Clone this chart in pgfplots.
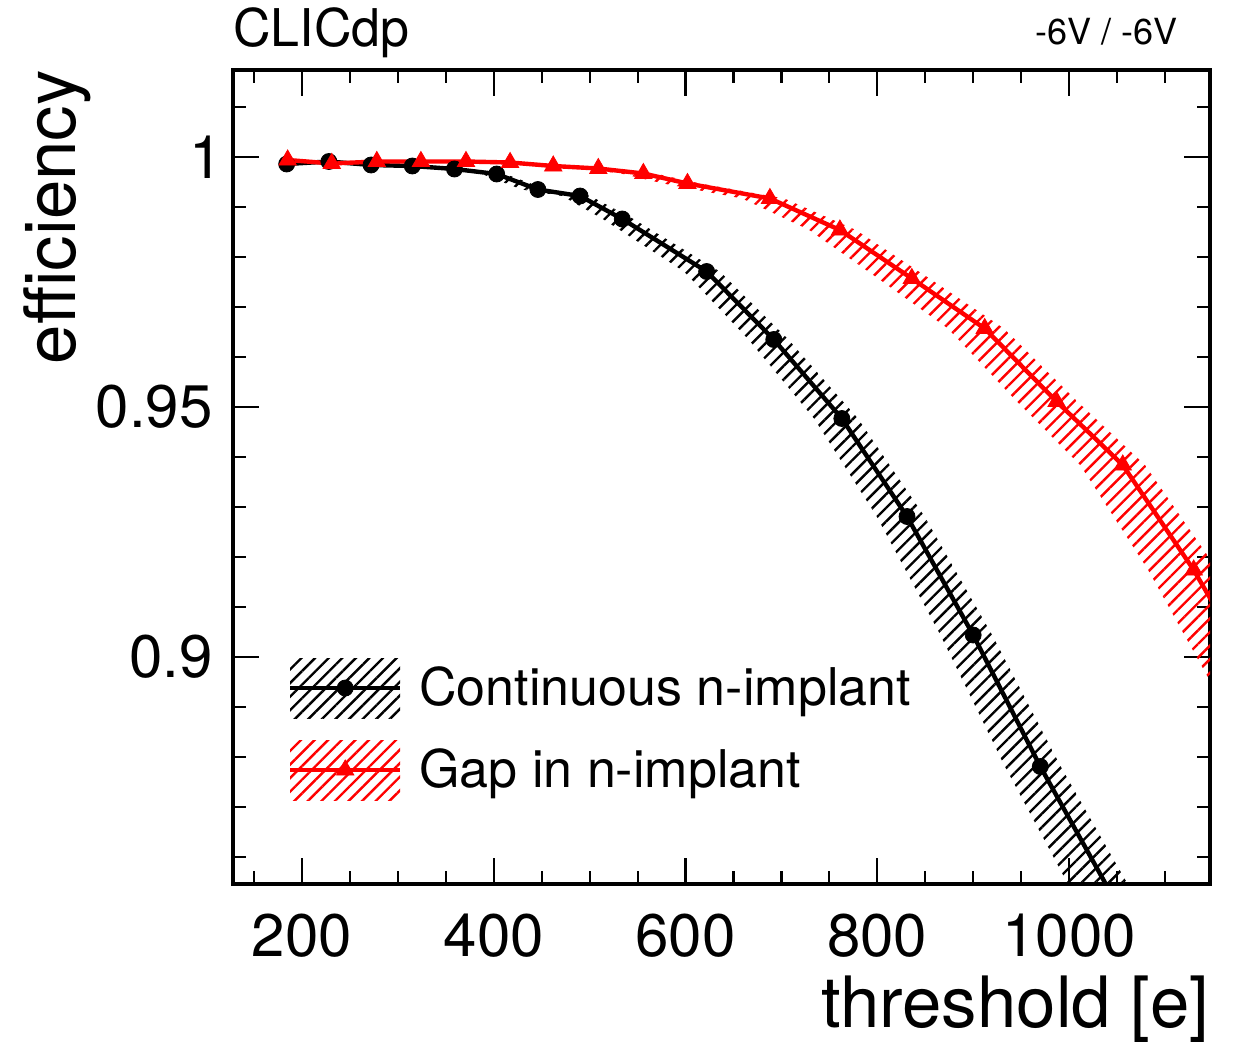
\documentclass[border=0pt]{standalone}
\usepackage{fontspec}
\setmainfont{TeX Gyre Heros}
\usepackage{pgfplots}
\pgfplotsset{compat=1.18}
\usetikzlibrary{patterns.meta}

\pgfplotsset{
  blackleg/.style={legend image code/.code={%
     \path[draw=none,pattern={Lines[angle=45,distance=4.8pt,line width=1.2pt]},pattern color=black] (0pt,-15pt) rectangle (55pt,15pt);
     \draw[mark repeat=2,mark phase=2,##1] plot coordinates {(0pt,0pt) (27.5pt,0pt) (55pt,0pt)};}},
  redleg/.style={legend image code/.code={%
     \path[draw=none,pattern={Lines[angle=45,distance=4.8pt,line width=1.2pt]},pattern color=red] (0pt,-15pt) rectangle (55pt,15pt);
     \draw[mark repeat=2,mark phase=2,##1] plot coordinates {(0pt,0pt) (27.5pt,0pt) (55pt,0pt)};}},
}

\begin{document}
\begin{tikzpicture}
\useasboundingbox (-116.5pt,-78.5pt) rectangle (505pt,442pt);
\begin{axis}[
  at={(0pt,0pt)}, anchor=south west,
  scale only axis, width=488.5pt, height=407pt,
  xmin=128, xmax=1147, ymin=0.8546, ymax=1.0174,
  xtick={200,400,600,800,1000}, xticklabels={200,400,600,800,1000},
  minor xtick={150,250,300,350,450,500,550,650,700,750,850,900,950,1050,1100},
  ytick={0.9,0.95,1}, yticklabels={0.9,0.95,1\kern-5pt},
  minor ytick={0.86,0.87,0.88,0.89,0.91,0.92,0.93,0.94,0.96,0.97,0.98,0.99,1.01},
  tick align=inside,
  major tick length=13pt, minor tick length=6.5pt,
  tick style={black, line width=1.1pt},
  axis line style={line width=2pt},
  xticklabel style={font=\fontsize{30}{36}\selectfont, anchor=base, yshift=-36pt, inner sep=0pt},
  yticklabel style={font=\fontsize{30}{36}\selectfont, anchor=east, xshift=-10pt, inner sep=0pt},
  legend cell align=left,
  legend style={at={(0.0563,0.2776)}, anchor=north west, draw=none, fill=none,
    inner sep=0pt, outer sep=0pt, row sep=11pt,
    font=\fontsize{26}{30}\selectfont,
    nodes={inner sep=0pt},
    /tikz/every odd column/.append style={column sep=8.5pt}},
]
% black band (threshold shifted)
\addplot[draw=none, pattern={Lines[angle=45,distance=4.8pt,line width=1.2pt]}, pattern color=black, forget plot] coordinates {
 (188.0,0.9986) (233.0,0.9991) (278.0,0.9984) (321.9,0.9982) (366.9,0.9976) (411.9,0.9966)
 (455.8,0.9935) (500.8,0.9922) (545.7,0.9876) (635.7,0.9771) (707.2,0.9635) (779.8,0.9477)
 (849.3,0.9281) (919.8,0.9044) (991.3,0.8781) (1062.9,0.8540)
 (1000.5,0.8540) (933.1,0.8781) (865.8,0.9044) (799.4,0.9281) (734.0,0.9477) (665.7,0.9635)
 (598.4,0.9771) (513.7,0.9876) (471.4,0.9922) (429.1,0.9935) (387.7,0.9966) (345.4,0.9976)
 (303.0,0.9982) (261.7,0.9984) (219.3,0.9991) (177.0,0.9986)
} -- cycle;
% red band
\addplot[draw=none, pattern={Lines[angle=45,distance=4.8pt,line width=1.2pt]}, pattern color=red, forget plot] coordinates {
 (189.1,0.9994) (236.1,0.9987) (284.1,0.9991) (331.1,0.9991) (379.2,0.9991) (426.2,0.9989)
 (472.2,0.9982) (520.2,0.9977) (568.2,0.9967) (615.2,0.9947) (703.1,0.9917) (777.7,0.9854)
 (854.4,0.9757) (932.1,0.9657) (1008.7,0.9511) (1079.2,0.9384) (1154.9,0.9174) (1230.5,0.8930)
 (1153.4,0.8930) (1082.5,0.9174) (1011.6,0.9384) (945.5,0.9511) (873.7,0.9657) (800.9,0.9757)
 (729.0,0.9854) (659.1,0.9917) (576.7,0.9947) (532.6,0.9967) (487.6,0.9977) (442.6,0.9982)
 (399.5,0.9989) (355.4,0.9991) (310.4,0.9991) (266.3,0.9991) (221.3,0.9987) (177.2,0.9994)
} -- cycle;
% black line
\addplot[black, line width=2.2pt, mark=*, mark size=4pt, mark options={solid, line width=0.4pt}, blackleg] coordinates {
 (184,0.9986) (228,0.9991) (272,0.9984) (315,0.9982) (359,0.9976) (403,0.9966) (446,0.9935)
 (490,0.9922) (534,0.9876) (622,0.9771) (692,0.9635) (763,0.9477) (831,0.9281) (900,0.9044)
 (970,0.8781) (1040,0.8540)
};
\addlegendentry{Continuous n-implant}
% red line
\addplot[red, line width=2.2pt, mark=triangle*, mark size=5pt, mark options={solid, line width=0.4pt}, redleg] coordinates {
 (185,0.9994) (231,0.9987) (278,0.9991) (324,0.9991) (371,0.9991) (417,0.9989) (462,0.9982)
 (509,0.9977) (556,0.9967) (602,0.9947) (688,0.9917) (761,0.9854) (836,0.9757) (912,0.9657)
 (987,0.9511) (1056,0.9384) (1130,0.9174) (1204,0.8930)
};
\addlegendentry{Gap in n-implant}
\end{axis}
\node[anchor=base west, inner sep=0pt, font=\fontsize{26}{30}\selectfont] at (0pt,418.5pt) {CLICdp};
\node[anchor=base east, inner sep=0pt, font=\fontsize{18}{22}\selectfont] at (472.5pt,419.5pt) {-6V / -6V};
\node[rotate=90, anchor=base east, inner sep=0pt, font=\fontsize{35.4}{40}\selectfont] at (-78.5pt,407pt) {efficiency};
\node[anchor=base east, inner sep=0pt, font=\fontsize{35.4}{40}\selectfont] at (488.5pt,-71.5pt) {threshold [e]};
\end{tikzpicture}
\end{document}
